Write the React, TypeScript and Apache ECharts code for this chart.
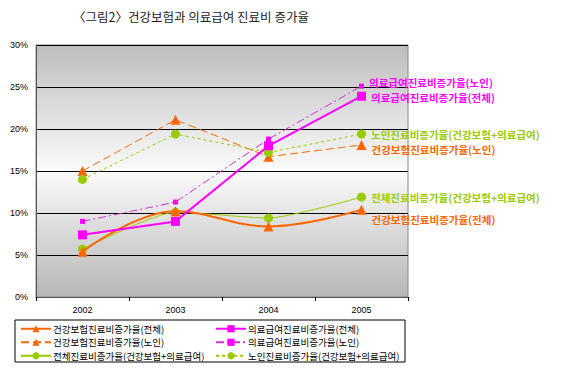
import React, { useEffect, useRef } from "react";
import * as echarts from "echarts";

const years = ["2002", "2003", "2004", "2005"];
const nameHiTotal = "건강보험진료비증가율(전체)";
const nameMaTotal = "의료급여진료비증가율(전체)";
const nameHiElder = "건강보험진료비증가율(노인)";
const nameMaElder = "의료급여진료비증가율(노인)";
const nameAllTotal = "전체진료비증가율(건강보험+의료급여)";
const nameAllElder = "노인진료비증가율(건강보험+의료급여)";

const hiTotal = [5.4, 10.2, 8.4, 10.4];
const maTotal = [7.4, 9.0, 18.0, 23.9];
const hiElder = [15.0, 21.1, 16.7, 18.1];
const maElder = [9.0, 11.3, 18.8, 25.1];
const allTotal = [5.7, 10.1, 9.4, 11.9];
const allElder = [14.0, 19.4, 17.2, 19.4];

const ORANGE = "#ff6600";
const MAGENTA = "#ff00ff";
const GREEN = "#99cc00";
const FONT = "'Noto Sans CJK KR', sans-serif";

function withEndLabel(vals: number[], name: string, color: string, offset: number[]) {
  return vals.map((v, i) =>
    i === vals.length - 1
      ? {
          value: v,
          label: {
            show: true,
            position: "right",
            offset,
            formatter: name,
            color,
            fontSize: 10.5,
            lineHeight: 11,
            fontWeight: "bold",
            fontFamily: FONT,
          },
        }
      : v
  );
}

export default function App() {
  const ref = useRef<HTMLDivElement>(null);
  useEffect(() => {
    if (!ref.current) return;
    const chart = echarts.init(ref.current, undefined, { renderer: "svg" });
    const legendCommon = {
      orient: "vertical",
      itemWidth: 30,
      itemHeight: 9,
      itemGap: 4,
      textStyle: { fontSize: 9.5, lineHeight: 9, fontFamily: FONT, color: "#000", padding: [0, 0, 0, -3] },
      padding: 0,
    };
    chart.setOption({
      animation: false,
      textStyle: { fontFamily: FONT },
      title: {
        text: "〈그림2〉건강보험과 의료급여 진료비 증가율",
        left: 186,
        top: 5,
        textAlign: "center",
        textStyle: { fontSize: 12.5, fontWeight: "normal", color: "#222", fontFamily: FONT },
      },
      grid: {
        left: 36,
        right: 170,
        top: 45,
        bottom: 72,
        show: true,
        borderColor: "#888",
        borderWidth: 1,
        backgroundColor: new echarts.graphic.LinearGradient(0, 0, 0, 1, [
          { offset: 0, color: "#bdbdbd" },
          { offset: 0.5, color: "#fbfbfb" },
          { offset: 1, color: "#b6b6b6" },
        ]),
      },
      graphic: [
        {
          type: "rect",
          shape: { x: 15, y: 320, width: 390, height: 42 },
          style: { fill: "none", stroke: "#000", lineWidth: 1 },
          z: 100,
        },
      ],
      legend: [
        {
          ...legendCommon,
          left: 20,
          top: 324,
          data: [nameHiTotal, nameHiElder, nameAllTotal],
        },
        {
          ...legendCommon,
          left: 215,
          top: 324,
          data: [nameMaTotal, nameMaElder, nameAllElder],
        },
      ],
      xAxis: {
        type: "category",
        data: years,
        boundaryGap: true,
        axisLine: { show: true, lineStyle: { color: "#555" } },
        axisTick: { show: true, alignWithLabel: false, length: 4, lineStyle: { color: "#000" } },
        axisLabel: { fontSize: 9, color: "#000", margin: 8, fontFamily: "Arial, sans-serif" },
      },
      yAxis: {
        type: "value",
        min: 0,
        max: 30,
        interval: 5,
        axisLine: { show: true, lineStyle: { color: "#555" } },
        axisTick: { show: false },
        axisLabel: { fontSize: 9, color: "#000", margin: 8, formatter: "{value}%", fontFamily: "Arial, sans-serif" },
        splitLine: { show: true, lineStyle: { color: "#000", width: 1 } },
      },
      series: [
        {
          name: nameHiTotal,
          type: "line",
          smooth: 0.4,
          data: withEndLabel(hiTotal, nameHiTotal, ORANGE, [0, 10]),
          symbol: "triangle",
          symbolSize: 10,
          lineStyle: { color: ORANGE, width: 2 },
          itemStyle: { color: ORANGE },
          z: 5,
        },
        {
          name: nameMaTotal,
          type: "line",
          data: withEndLabel(maTotal, nameMaTotal, MAGENTA, [0, 1]),
          symbol: "rect",
          symbolSize: 9,
          lineStyle: { color: MAGENTA, width: 2 },
          itemStyle: { color: MAGENTA },
          z: 6,
        },
        {
          name: nameHiElder,
          type: "line",
          data: withEndLabel(hiElder, nameHiElder, ORANGE, [0, 5]),
          symbol: "triangle",
          symbolSize: 10,
          lineStyle: { color: ORANGE, width: 1, type: [8, 4] },
          itemStyle: { color: ORANGE },
        },
        {
          name: nameMaElder,
          type: "line",
          data: withEndLabel(maElder, nameMaElder, MAGENTA, [0, -4]),
          symbol: "rect",
          symbolSize: 5,
          lineStyle: { color: "#cc33cc", width: 1, type: [8, 3, 2, 3] },
          itemStyle: { color: MAGENTA },
        },
        {
          name: nameAllTotal,
          type: "line",
          smooth: 0.2,
          data: withEndLabel(allTotal, nameAllTotal, GREEN, [0, 0]),
          symbol: "circle",
          symbolSize: 9,
          lineStyle: { color: GREEN, width: 1 },
          itemStyle: { color: GREEN },
        },
        {
          name: nameAllElder,
          type: "line",
          data: withEndLabel(allElder, nameAllElder, GREEN, [0, 0]),
          symbol: "circle",
          symbolSize: 9,
          lineStyle: { color: GREEN, width: 1, type: [3, 3] },
          itemStyle: { color: GREEN },
        },
      ],
    });
    return () => chart.dispose();
  }, []);
  return <div ref={ref} style={{ width: 578, height: 369, position: "absolute", left: 0, top: 0 }} />;
}
